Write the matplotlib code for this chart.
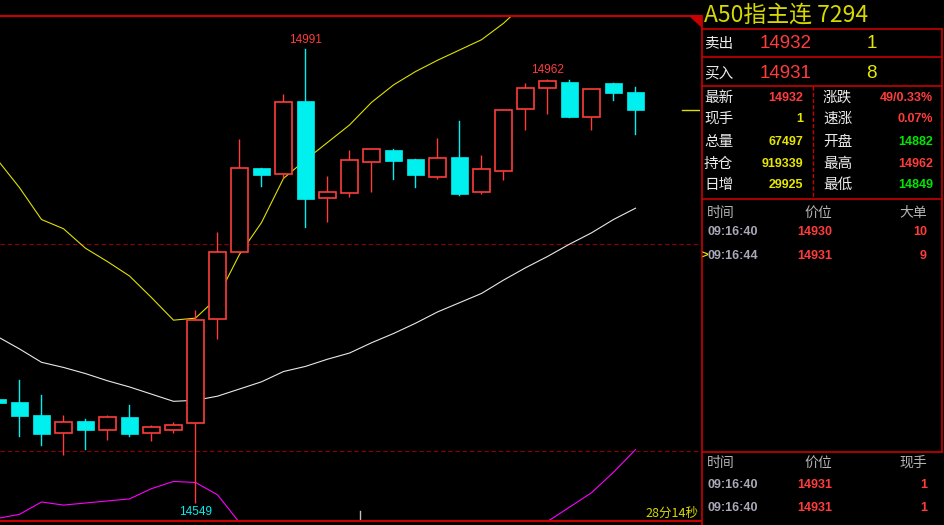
import matplotlib
matplotlib.use('Agg')
import matplotlib.pyplot as plt
from matplotlib.patches import Rectangle, Polygon

plt.rcParams['font.family'] = ['Noto Sans CJK SC', 'DejaVu Sans']

# K线数据
opens  = [14650, 14647, 14635, 14617, 14629, 14620, 14633, 14617, 14620, 14627,
          14728, 14793, 14875, 14869, 14940, 14846, 14851, 14881, 14893, 14884,
          14866, 14886, 14852, 14872, 14933, 14953, 14959, 14925, 14958, 14949]
closes = [14646, 14634, 14616, 14628, 14620, 14633, 14616, 14623, 14625, 14727,
          14793, 14875, 14868, 14939, 14845, 14852, 14883, 14894, 14882, 14868,
          14885, 14850, 14874, 14932, 14953, 14960, 14925, 14952, 14948, 14932]
highs  = [14651, 14669, 14654, 14635, 14631, 14635, 14644, 14625, 14628, 14737,
          14813, 14903, 14875, 14947, 14991, 14867, 14893, 14894, 14894, 14884,
          14904, 14921, 14888, 14933, 14958, 14962, 14961, 14952, 14958, 14954]
lows   = [14644, 14614, 14605, 14596, 14602, 14610, 14614, 14609, 14617, 14549,
          14709, 14792, 14858, 14865, 14818, 14823, 14847, 14852, 14864, 14857,
          14864, 14849, 14850, 14863, 14912, 14928, 14925, 14912, 14941, 14908]

# 均线
ma_yellow = [14883, 14856, 14825, 14816, 14797, 14784, 14770, 14749, 14727, 14729,
             14749, 14791, 14822, 14865, 14883, 14900, 14917, 14939, 14956, 14969,
             14980, 14990, 15000, 15016, 15036, 15050, 15062, 15073, 15083, 15092]
ma_white = [14711, 14699, 14686, 14681, 14675, 14668, 14662, 14655, 14648, 14649,
            14653, 14660, 14667, 14677, 14682, 14689, 14695, 14705, 14714, 14724,
            14735, 14744, 14753, 14766, 14778, 14789, 14801, 14812, 14825, 14836]
ma_magenta = [14534, 14538, 14550, 14547, 14549, 14551, 14553, 14563, 14570, 14569,
              14557, 14530, 14505, 14485, 14470, 14460, 14455, 14452, 14452, 14455,
              14462, 14472, 14485, 14500, 14514, 14531, 14545, 14559, 14579, 14601]

grid_prices = [14801, 14600]
session_break = 16.5

# 右侧盘口
quote_rows = [('卖出', '14932', '1'), ('买入', '14931', '8')]
stat_left = [('最新', '14932', 'r'), ('现手', '1', 'y'), ('总量', '67497', 'y'),
             ('持仓', '919339', 'y'), ('日增', '29925', 'y')]
stat_right = [('涨跌', '49/0.33%', 'r'), ('速涨', '0.07%', 'r'), ('开盘', '14882', 'g'),
              ('最高', '14962', 'r'), ('最低', '14849', 'g')]
ticks_big = [('09:16:40', '14930', '10'), ('09:16:44', '14931', '9')]
ticks_last = [('09:16:40', '14931', '1'), ('09:16:40', '14931', '1')]

RED = '#ff3c3c'
CYAN = '#00f0f0'
YEL = '#e6e600'
GRN = '#00e600'
BORDER = '#c80000'
DASH = '#8c0000'
cmap = {'r': RED, 'y': YEL, 'g': GRN}
NUM = ['Liberation Sans', 'DejaVu Sans']

fig = plt.figure(figsize=(9.45, 5.25), dpi=100, facecolor='black')

# 主图
ax = fig.add_axes([0, 4 / 525, 700 / 945, 505 / 525])
ax.set_facecolor('black')
ax.set_xlim(2.5 / 22, 702.5 / 22)
ax.set_ylim(14531.5, 15023.1)
ax.axis('off')

for gp in grid_prices:
    ax.axhline(gp, color=DASH, lw=0.8, dashes=(4, 2.5))

x = list(range(len(opens)))
ax.plot(x, ma_yellow, color='#e0e000', lw=0.8)
ax.plot(x, ma_white, color='#e8e8e8', lw=0.8)
ax.plot(x, ma_magenta, color='#ff00ff', lw=0.8)

w = 0.8
for i, (o, h, l, c) in enumerate(zip(opens, highs, lows, closes)):
    top, bot = max(o, c), min(o, c)
    if c >= o:
        ax.plot([i, i], [top, h], color=RED, lw=1.0, solid_capstyle='butt')
        ax.plot([i, i], [l, bot], color=RED, lw=1.0, solid_capstyle='butt')
        ax.add_patch(Rectangle((i - w / 2, bot), w, top - bot, facecolor='black',
                               edgecolor=RED, lw=1.2, zorder=3))
    else:
        ax.plot([i, i], [l, h], color=CYAN, lw=1.0, zorder=3)
        ax.add_patch(Rectangle((i - w / 2, bot), w, top - bot, facecolor=CYAN,
                               edgecolor=CYAN, lw=0.5, zorder=4))

hi_i = highs.index(max(highs))
ax.annotate(str(highs[hi_i]), (hi_i, highs[hi_i]), xytext=(0, 2), textcoords='offset points',
            ha='center', va='bottom', color=RED, fontsize=8.5, family=NUM)
ax.annotate(str(highs[25]), (25, highs[25]), xytext=(0, 2), textcoords='offset points',
            ha='center', va='bottom', color=RED, fontsize=8.5, family=NUM)
lo_i = lows.index(min(lows))
ax.annotate(str(lows[lo_i]), (lo_i, lows[lo_i]), xytext=(0, -2), textcoords='offset points',
            ha='center', va='top', color=CYAN, fontsize=8.5, family=NUM)

ax.axhline(closes[-1], xmin=682 / 700, xmax=1, color='#e0e000', lw=1)
ax.axvline(session_break, ymin=0, ymax=10 / 505, color='#c0c0c0', lw=1)

# 叠加层：边框与文字
ov = fig.add_axes([0, 0, 1, 1], facecolor='none')
ov.set_xlim(0, 945)
ov.set_ylim(525, 0)
ov.axis('off')

ov.plot([0, 701], [16, 16], color=BORDER, lw=1.5)
ov.plot([0, 701], [521, 521], color=BORDER, lw=1.5)
ov.add_patch(Polygon([[690, 16], [701, 16], [701, 26]], closed=True, color=BORDER))
ov.plot([701.5, 701.5], [16, 525], color=BORDER, lw=1.2)
ov.plot([942, 942], [29, 452], color=BORDER, lw=1.2)
for yy in [29, 57, 86, 199, 452]:
    ov.plot([701.5, 942], [yy, yy], color=BORDER, lw=1.2)
ov.plot([813, 813], [86, 199], color=BORDER, lw=1, dashes=(3, 1.5))

ov.text(704, 15, 'A50指主连 7294', color='#d8d800', fontsize=16.5, va='center', ha='left')

for k, (lab, price, vol) in enumerate(quote_rows):
    yy = 44 + k * 29
    ov.text(704, yy, lab, color='#ececec', fontsize=10.5, va='center')
    ov.text(760, yy, price, color=RED, fontsize=13.5, va='center', family=NUM)
    ov.text(877, yy, vol, color=YEL, fontsize=13.5, va='center', ha='right', family=NUM)

row_y = [98, 119, 142, 164, 185]
for yy, (lab, val, c) in zip(row_y, stat_left):
    ov.text(704, yy, lab, color='#ececec', fontsize=10.5, va='center')
    ov.text(803, yy, val, color=cmap[c], fontsize=9, va='center', ha='right',
            family=NUM, fontweight='bold')
for yy, (lab, val, c) in zip(row_y, stat_right):
    ov.text(823, yy, lab, color='#ececec', fontsize=10.5, va='center')
    ov.text(933, yy, val, color=cmap[c], fontsize=9, va='center', ha='right',
            family=NUM, fontweight='bold')


def tick_table(y0, ys, headers, rows, marker_row=None):
    ov.text(707, y0, headers[0], color='#b4b4b4', fontsize=10, va='center')
    ov.text(832, y0, headers[1], color='#b4b4b4', fontsize=10, va='center', ha='right')
    ov.text(927, y0, headers[2], color='#b4b4b4', fontsize=10, va='center', ha='right')
    for yy, k, (t, p, v) in zip(ys, range(len(rows)), rows):
        ov.text(707.5, yy, t, color='#a8a8b8', fontsize=9, va='center',
                family=NUM, fontweight='bold')
        ov.text(832, yy, p, color=RED, fontsize=9, va='center', ha='right',
                family=NUM, fontweight='bold')
        ov.text(927, yy, v, color=RED, fontsize=9, va='center', ha='right',
                family=NUM, fontweight='bold')
        if marker_row == k:
            ov.text(707.5, yy, '>', color=YEL, fontsize=8, va='center', ha='right',
                    family=NUM, fontweight='bold')


tick_table(213, [232, 256], ['时间', '价位', '大单'], ticks_big, marker_row=1)
tick_table(463, [485, 508], ['时间', '价位', '现手'], ticks_last)

ov.text(698, 513, '28分14秒', color='#d8d800', fontsize=9, va='center', ha='right')

fig.savefig('out.png', dpi=100, facecolor='black')
